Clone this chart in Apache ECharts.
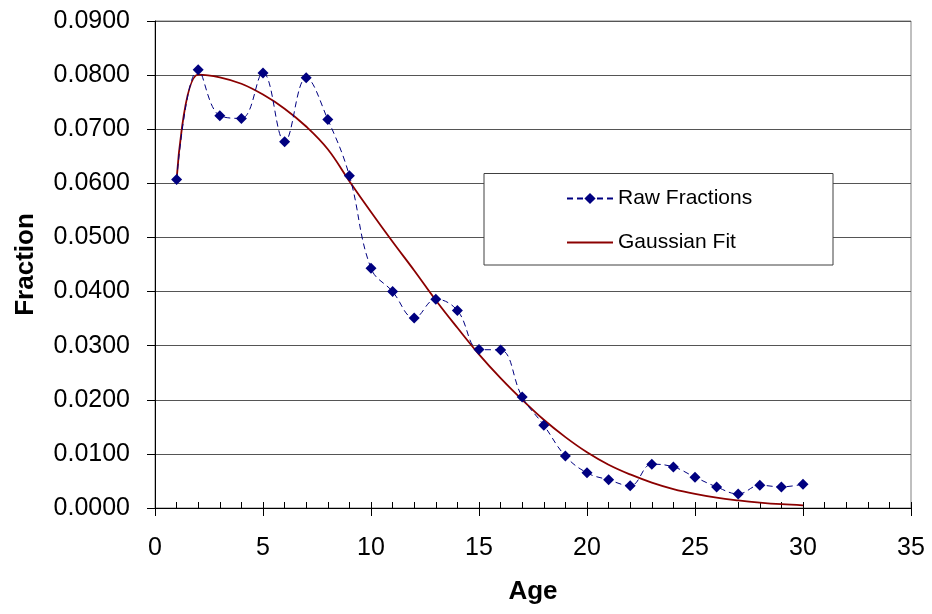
<!DOCTYPE html>
<html>
<head>
<meta charset="utf-8">
<script src="https://cdn.jsdelivr.net/npm/echarts@6/dist/echarts.min.js"></script>
<style>
html,body{margin:0;padding:0;background:#fff;}
#chart{width:932px;height:614px;}
</style>
</head>
<body>
<div id="chart"></div>
<script>
const ages = [1,2,3,4,5,6,7,8,9,10,11,12,13,14,15,16,17,18,19,20,21,22,23,24,25,26,27,28,29,30];
const rawFractions = [0.0607,0.0810,0.0725,0.0720,0.0804,0.0677,0.0795,0.0718,0.0614,0.0443,
  0.0400,0.0351,0.0386,0.0365,0.0293,0.0292,0.0205,0.0153,0.0096,0.0065,
  0.0052,0.0041,0.0081,0.0076,0.0057,0.0039,0.0026,0.0042,0.0039,0.0044];
const gaussianFit = [0.0607,0.0801,0.0796,0.0784,0.0764,0.0738,0.0705,0.0663,0.0604,0.0547,
  0.0492,0.0439,0.0384,0.0333,0.0284,0.0240,0.0200,0.0163,0.0131,0.0103,
  0.0080,0.0062,0.0047,0.0035,0.0026,0.0019,0.0014,0.0010,0.0007,0.0005];
const xTickLabels = ['0','5','10','15','20','25','30','35'];
const yTickLabels = ['0.0000','0.0100','0.0200','0.0300','0.0400','0.0500','0.0600','0.0700','0.0800','0.0900'];

const FONT = "'Liberation Sans', Arial, sans-serif";
const chart = echarts.init(document.getElementById('chart'), null, {renderer:'canvas'});

const option = {
  animation: false,
  backgroundColor: '#fff',
  grid: {left:155, right:21, top:21, bottom:106, show:true, borderColor:'#808080', borderWidth:1, backgroundColor:'transparent'},
  xAxis: [{
    type:'value', min:0, max:35, interval:5, position:'bottom',
    name:'Age', nameLocation:'middle', nameGap:71,
    nameTextStyle:{fontFamily:FONT, fontSize:26, fontWeight:'bold', color:'#000'},
    axisLine:{show:true, onZero:false, lineStyle:{color:'#000', width:1}},
    axisTick:{show:true, inside:false, length:8, lineStyle:{color:'#000'}},
    minorTick:{show:false},
    axisLabel:{fontFamily:FONT, fontSize:25, color:'#000', margin:28,
      formatter:(v)=>xTickLabels[Math.round(v/5)]},
    splitLine:{show:false}
  },{
    type:'value', min:0, max:35, interval:5, position:'bottom', gridIndex:0,
    axisLine:{show:false, onZero:false},
    axisTick:{show:true, inside:true, length:6, lineStyle:{color:'#000'}},
    minorTick:{show:true, splitNumber:5, length:6, lineStyle:{color:'#000'}},
    axisLabel:{show:false},
    splitLine:{show:false}
  }],
  yAxis: {
    type:'value', min:0, max:0.09, interval:0.01,
    name:'Fraction', nameLocation:'middle', nameGap:116, nameRotate:90,
    nameTextStyle:{fontFamily:FONT, fontSize:26, fontWeight:'bold', color:'#000'},
    axisLine:{show:true, lineStyle:{color:'#000', width:1}},
    axisTick:{show:true, length:8, lineStyle:{color:'#000'}},
    axisLabel:{fontFamily:FONT, fontSize:25, color:'#000', margin:25,
      formatter:(v)=>yTickLabels[Math.round(v*100)]},
    splitLine:{show:true, lineStyle:{color:'#555', width:1}}
  },
  legend: {
    orient:'vertical', left:566, top:188, padding:0,
    itemWidth:46, itemHeight:14, itemGap:23,
    textStyle:{fontFamily:FONT, fontSize:21, color:'#000'},
    data:[
      {name:'Raw Fractions'},
      {name:'Gaussian Fit', itemStyle:{color:'rgba(0,0,0,0)', borderColor:'rgba(0,0,0,0)', borderWidth:0, opacity:0}}
    ],
    z:10
  },
  graphic: [{
    type:'rect', z:5,
    shape:{x:484, y:173.5, width:349, height:91.5},
    style:{fill:'#fff', stroke:'#404040', lineWidth:1}
  }],
  series: [{
    name:'Raw Fractions', type:'line', xAxisIndex:0,
    data: ages.map((a,i)=>[a, rawFractions[i]]),
    smooth:0.4,
    symbol:'diamond', symbolSize:11,
    itemStyle:{color:'#000080'},
    lineStyle:{color:'#000080', width:1, type:[6,4]},
    z:3
  },{
    name:'Gaussian Fit', type:'line', xAxisIndex:0,
    data: ages.map((a,i)=>[a, gaussianFit[i]]),
    smooth:0.4,
    symbol:'none',
    itemStyle:{color:'#8B0000'},
    lineStyle:{color:'#8B0000', width:1.8},
    z:2
  }]
};
chart.setOption(option);
</script>
</body>
</html>
